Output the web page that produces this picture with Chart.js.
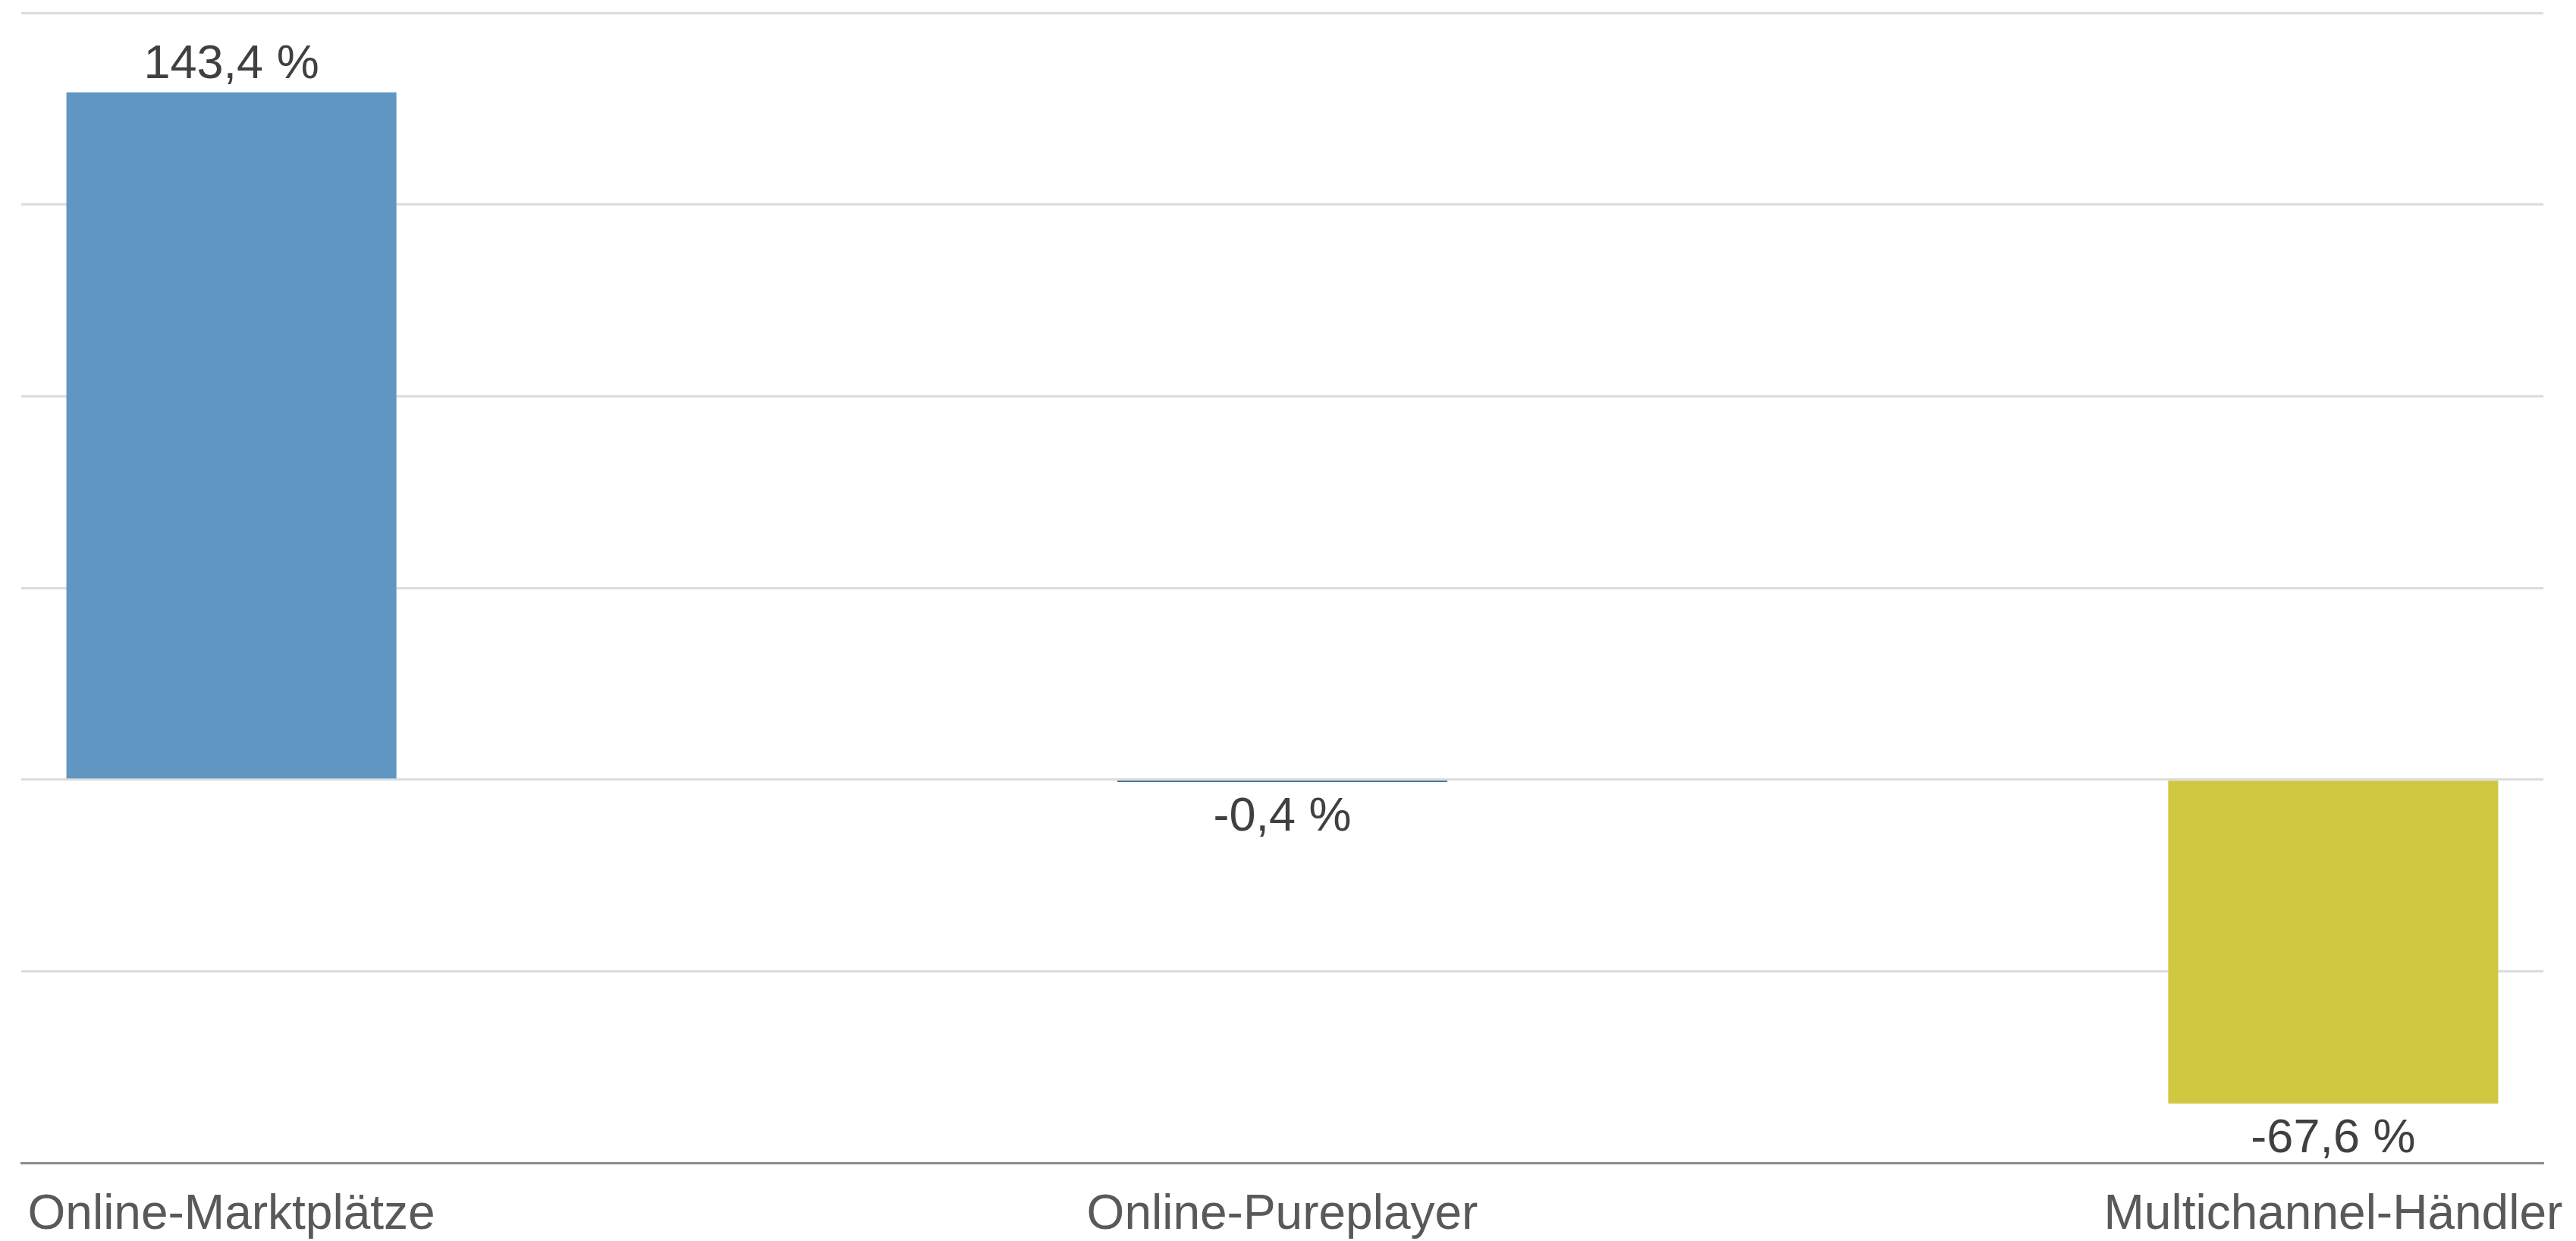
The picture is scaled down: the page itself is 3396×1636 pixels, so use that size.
<!DOCTYPE html>
<html>
<head>
<meta charset="utf-8">
<script src="https://cdn.jsdelivr.net/npm/chart.js@4/dist/chart.umd.min.js"></script>
<style>
  html, body { margin: 0; padding: 0; background: #ffffff; }
  #wrap { width: 3396px; height: 1636px; position: relative; }
</style>
</head>
<body>
<div id="wrap"><canvas id="c" width="3396" height="1636"></canvas></div>
<script>
const categories = ['Online-Marktplätze', 'Online-Pureplayer', 'Multichannel-Händler'];
const values = [143.4, -0.4, -67.6];
const barColors = ['#5f96c2', '#0f4a87', '#d0c840'];
const yTicks = [-80, -40, 0, 40, 80, 120, 160];

const FONT = '"Liberation Sans", Arial, Helvetica, sans-serif';

const valueLabels = {
  id: 'valueLabels',
  afterDatasetsDraw(chart) {
    const ctx = chart.ctx;
    const meta = chart.getDatasetMeta(0);
    ctx.save();
    ctx.font = '63px ' + FONT;
    ctx.fillStyle = '#404040';
    ctx.textAlign = 'center';
    ctx.textBaseline = 'alphabetic';
    meta.data.forEach((bar, i) => {
      const v = values[i];
      const txt = v.toFixed(1).replace('.', ',') + ' %';
      if (v >= 0) {
        ctx.fillText(txt, bar.x, bar.y - 19);
      } else {
        ctx.fillText(txt, bar.x, Math.max(bar.y, bar.base) + 19 + 45);
      }
    });
    ctx.restore();
  }
};

new Chart(document.getElementById('c'), {
  type: 'bar',
  data: {
    datasets: [{
      data: values.map((v, i) => ({ x: i, y: v })),
      backgroundColor: barColors,
      borderWidth: 0,
      minBarLength: 3,
      categoryPercentage: 1,
      barPercentage: 0.314
    }]
  },
  options: {
    responsive: false,
    animation: false,
    devicePixelRatio: 1,
    layout: { padding: { left: 28, right: 43, top: 17, bottom: 0 } },
    plugins: { legend: { display: false }, tooltip: { enabled: false } },
    scales: {
      x: {
        type: 'linear',
        offset: false,
        min: -0.2,
        max: 2.2,
        afterBuildTicks: (scale) => { scale.ticks = categories.map((_, i) => ({ value: i })); },
        afterFit: (scale) => {
          scale.height = 103;
          scale.paddingLeft = 0;
          scale.paddingRight = 0;
        },
        grid: { display: false, drawTicks: false, offset: false },
        border: { display: true, color: '#8c8c8c', width: 3 },
        ticks: {
          autoSkip: false,
          maxRotation: 0,
          padding: 34,
          color: '#595959',
          font: { family: FONT, size: 64, lineHeight: 1.1 },
          callback: (v) => categories[v] ?? ''
        }
      },
      y: {
        min: yTicks[0],
        max: yTicks[yTicks.length - 1],
        afterBuildTicks: (scale) => { scale.ticks = yTicks.map(v => ({ value: v })); },
        afterFit: (scale) => { scale.width = 0; },
        ticks: { display: false },
        border: { display: false },
        grid: {
          drawTicks: false,
          lineWidth: 3,
          color: (c) => (c.tick && c.tick.value === yTicks[0]) ? 'rgba(0,0,0,0)' : '#dcdcdc'
        }
      }
    }
  },
  plugins: [valueLabels]
});
</script>
</body>
</html>
